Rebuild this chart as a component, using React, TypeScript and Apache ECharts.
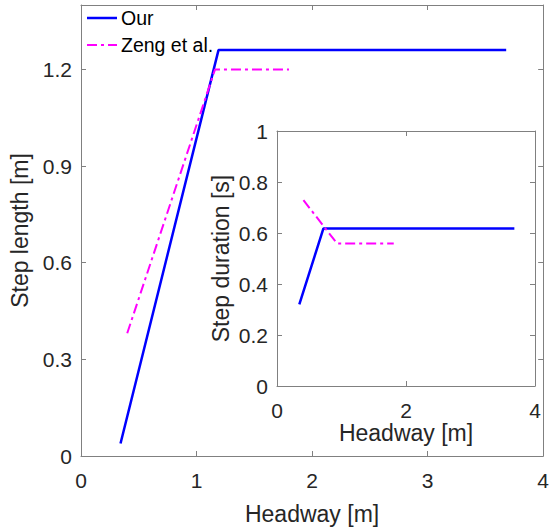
import React, { useEffect, useRef } from "react";
import * as echarts from "echarts";

const mainOurX = [0.342, 1.19, 3.68];
const mainOurY = [0.039, 1.26, 1.26];
const mainZengX = [0.4, 1.16, 1.8];
const mainZengY = [0.381, 1.2, 1.2];

const insetOurX = [0.346, 0.72, 3.68];
const insetOurY = [0.32, 0.618, 0.618];
const insetZengX = [0.41, 0.93, 1.81];
const insetZengY = [0.729, 0.559, 0.559];

const seriesNames = ["Our", "Zeng et al."];

const FONT = "Liberation Sans";
const TEXT = "#262626";
const AXIS = "#808080";
const BLUE = "#0000ff";
const MAGENTA = "#ff00ff";
const DASHDOT = [10, 4, 3, 4];

const zip = (xs: number[], ys: number[]) => xs.map((x, i) => [x, ys[i]]);

export default function App() {
  const ref = useRef<HTMLDivElement>(null);
  useEffect(() => {
    const chart = echarts.init(ref.current!, undefined, { renderer: "svg" });
    const tick = { show: true, inside: true, length: 5, lineStyle: { color: AXIS } };
    const line = { show: true, onZero: false, lineStyle: { color: AXIS, width: 1 } };
    const label = { color: TEXT, fontFamily: FONT, fontSize: 21 };
    const hidden = (gi: number, pos: string, min: number, max: number, interval: number) => ({
      type: "value",
      gridIndex: gi,
      position: pos,
      min,
      max,
      interval,
      axisLine: line,
      axisTick: tick,
      axisLabel: { show: false },
      splitLine: { show: false },
    });
    const legendItems = [
      { name: seriesNames[0], color: BLUE, width: 2.5, dash: undefined as any, y: 18 },
      { name: seriesNames[1], color: MAGENTA, width: 2, dash: DASHDOT, y: 45 },
    ];
    chart.setOption({
      animation: false,
      backgroundColor: "#fff",
      graphic: legendItems.flatMap((it) => [
        {
          type: "line",
          shape: { x1: 87, y1: it.y, x2: 117, y2: it.y },
          style: { stroke: it.color, lineWidth: it.width, lineDash: it.dash },
          z: 10,
        },
        {
          type: "text",
          x: 121,
          y: it.y,
          style: {
            text: it.name,
            fill: "#000",
            font: `19.5px "${FONT}"`,
            textVerticalAlign: "middle",
            verticalAlign: "middle",
          },
          z: 10,
        },
      ]),
      grid: [
        { left: 81, top: 5, right: 3, bottom: 76, show: false },
        { left: 277, top: 131, right: 17, bottom: 146, show: true, backgroundColor: "#fff", borderWidth: 0, z: 5 },
      ],
      xAxis: [
        {
          type: "value", gridIndex: 0, position: "bottom", min: 0, max: 4, interval: 1,
          axisLine: line, axisTick: tick,
          axisLabel: { ...label, margin: 14 },
          splitLine: { show: false },
          name: "Headway [m]", nameLocation: "middle", nameGap: 46,
          nameTextStyle: { color: TEXT, fontFamily: FONT, fontSize: 23 },
        },
        hidden(0, "top", 0, 4, 1),
        {
          type: "value", gridIndex: 1, position: "bottom", min: 0, max: 4, interval: 2,
          axisLine: line, axisTick: tick,
          axisLabel: { ...label, margin: 14 },
          splitLine: { show: false },
          name: "Headway [m]", nameLocation: "middle", nameGap: 35,
          nameTextStyle: { color: TEXT, fontFamily: FONT, fontSize: 23 },
          z: 6,
        },
        { ...hidden(1, "top", 0, 4, 2), z: 6 },
      ],
      yAxis: [
        {
          type: "value", gridIndex: 0, position: "left", min: 0, max: 1.4, interval: 0.3,
          axisLine: line, axisTick: tick,
          axisLabel: {
            ...label, margin: 9,
            formatter: (v: number) => (Math.abs(v - 1.4) < 1e-6 ? "" : String(Math.round(v * 10) / 10)),
          },
          splitLine: { show: false },
          name: "Step length [m]", nameLocation: "middle", nameGap: 48,
          nameTextStyle: { color: TEXT, fontFamily: FONT, fontSize: 23 },
        },
        hidden(0, "right", 0, 1.4, 0.3),
        {
          type: "value", gridIndex: 1, position: "left", min: 0, max: 1, interval: 0.2,
          axisLine: line, axisTick: tick,
          axisLabel: { ...label, margin: 9 },
          splitLine: { show: false },
          name: "Step duration [s]", nameLocation: "middle", nameGap: 45,
          nameTextStyle: { color: TEXT, fontFamily: FONT, fontSize: 23 },
          z: 6,
        },
        { ...hidden(1, "right", 0, 1, 0.2), z: 6 },
      ],
      series: [
        {
          name: seriesNames[0], type: "line", xAxisIndex: 0, yAxisIndex: 0,
          data: zip(mainOurX, mainOurY), symbol: "none",
          lineStyle: { color: BLUE, width: 2.5 }, itemStyle: { color: BLUE },
        },
        {
          name: seriesNames[1], type: "line", xAxisIndex: 0, yAxisIndex: 0,
          data: zip(mainZengX, mainZengY), symbol: "none",
          lineStyle: { color: MAGENTA, width: 2, type: DASHDOT }, itemStyle: { color: MAGENTA },
        },
        {
          name: seriesNames[0], type: "line", xAxisIndex: 2, yAxisIndex: 2,
          data: zip(insetOurX, insetOurY), symbol: "none", z: 7,
          lineStyle: { color: BLUE, width: 2.5 }, itemStyle: { color: BLUE },
        },
        {
          name: seriesNames[1], type: "line", xAxisIndex: 2, yAxisIndex: 2,
          data: zip(insetZengX, insetZengY), symbol: "none", z: 7,
          lineStyle: { color: MAGENTA, width: 2, type: DASHDOT }, itemStyle: { color: MAGENTA },
        },
      ],
    });
    return () => chart.dispose();
  }, []);
  return <div ref={ref} style={{ width: 552, height: 532, position: "absolute", left: 0, top: 0 }} />;
}
